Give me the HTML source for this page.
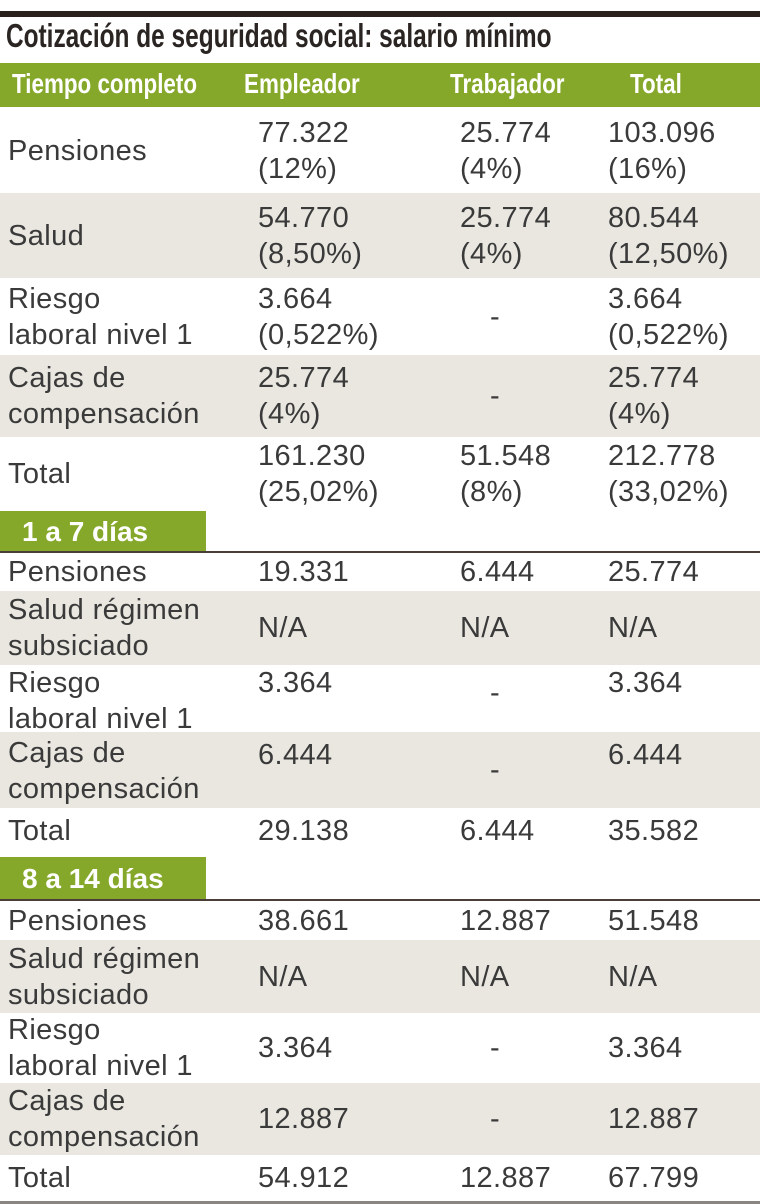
<!DOCTYPE html>
<html><head><meta charset="utf-8"><style>
*{margin:0;padding:0;box-sizing:border-box}
body{width:760px;height:1204px;background:#fff;position:relative;overflow:hidden;font-family:"Liberation Sans",sans-serif;color:#3a3a3a}
.a{position:absolute}
.row{position:absolute;left:0;width:760px;display:flex;align-items:center}
.row div{position:absolute;font-size:29px;line-height:36px;white-space:nowrap;letter-spacing:0.4px}
.g{background:#e9e7e0}
.c0{left:8px}.c1{left:258px}.c2{left:460px}.c3{left:608px}
.hd{font-family:"Liberation Sans Narrow","Liberation Sans",sans-serif;font-weight:bold;color:#fff;font-size:28px;position:absolute;top:68px;transform:scaleX(.8);transform-origin:left;white-space:nowrap}
.sec{position:absolute;left:0;width:206px;background:#86a82a;color:#fff;font-weight:bold;font-size:28px;padding-left:22px}
</style></head><body>
<div class="a" style="left:0;top:11px;width:760px;height:6px;background:#2a211d"></div>
<div class="a" style="left:6px;top:17px;font-family:'Liberation Sans Narrow','Liberation Sans',sans-serif;font-weight:bold;font-size:33px;color:#2a2522;transform:scaleX(.74);transform-origin:left;white-space:nowrap">Cotización de seguridad social: salario mínimo</div>
<div class="a" style="left:0;top:63px;width:760px;height:44px;background:#86a82a"></div>
<div class="hd" style="left:12px">Tiempo completo</div>
<div class="hd" style="left:244px">Empleador</div>
<div class="hd" style="left:450px">Trabajador</div>
<div class="hd" style="left:630px">Total</div>

<div class="row" style="top:108px;height:85px"><div class="c0">Pensiones</div><div class="c1">77.322<br>(12%)</div><div class="c2">25.774<br>(4%)</div><div class="c3">103.096<br>(16%)</div></div>
<div class="row g" style="top:193px;height:85px"><div class="c0">Salud</div><div class="c1">54.770<br>(8,50%)</div><div class="c2">25.774<br>(4%)</div><div class="c3">80.544<br>(12,50%)</div></div>
<div class="row" style="top:278px;height:77px"><div class="c0">Riesgo<br>laboral nivel 1</div><div class="c1">3.664<br>(0,522%)</div><div class="c2" style="left:490px">-</div><div class="c3">3.664<br>(0,522%)</div></div>
<div class="row g" style="top:355px;height:82px"><div class="c0">Cajas de<br>compensación</div><div class="c1">25.774<br>(4%)</div><div class="c2" style="left:490px">-</div><div class="c3">25.774<br>(4%)</div></div>
<div class="row" style="top:437px;height:73px"><div class="c0">Total</div><div class="c1">161.230<br>(25,02%)</div><div class="c2">51.548<br>(8%)</div><div class="c3">212.778<br>(33,02%)</div></div>

<div class="sec" style="top:511px;height:41px;line-height:41px">1 a 7 días</div>
<div class="a" style="left:0;top:551px;width:760px;height:2px;background:#4a3f38"></div>
<div class="row" style="top:553px;height:38px"><div class="c0">Pensiones</div><div class="c1">19.331</div><div class="c2">6.444</div><div class="c3">25.774</div></div>
<div class="row g" style="top:591px;height:74px"><div class="c0">Salud régimen<br>subsiciado</div><div class="c1">N/A</div><div class="c2">N/A</div><div class="c3">N/A</div></div>
<div class="row" style="top:665px;height:67px;align-items:flex-start"><div class="c0" style="top:0">Riesgo<br>laboral nivel 1</div><div class="c1" style="top:0">3.364</div><div class="c2" style="left:490px;top:10px">-</div><div class="c3" style="top:0">3.364</div></div>
<div class="row g" style="top:732px;height:76px;align-items:flex-start"><div class="c0" style="top:3px">Cajas de<br>compensación</div><div class="c1" style="top:5px">6.444</div><div class="c2" style="left:490px;top:20px">-</div><div class="c3" style="top:5px">6.444</div></div>
<div class="row" style="top:808px;height:46px"><div class="c0">Total</div><div class="c1">29.138</div><div class="c2">6.444</div><div class="c3">35.582</div></div>

<div class="sec" style="top:857px;height:43px;line-height:43px">8 a 14 días</div>
<div class="a" style="left:0;top:899px;width:760px;height:2px;background:#4a3f38"></div>
<div class="row" style="top:901px;height:39px"><div class="c0">Pensiones</div><div class="c1">38.661</div><div class="c2">12.887</div><div class="c3">51.548</div></div>
<div class="row g" style="top:940px;height:73px"><div class="c0">Salud régimen<br>subsiciado</div><div class="c1">N/A</div><div class="c2">N/A</div><div class="c3">N/A</div></div>
<div class="row" style="top:1013px;height:70px"><div class="c0">Riesgo<br>laboral nivel 1</div><div class="c1">3.364</div><div class="c2" style="left:490px">-</div><div class="c3">3.364</div></div>
<div class="row g" style="top:1083px;height:72px"><div class="c0">Cajas de<br>compensación</div><div class="c1">12.887</div><div class="c2" style="left:490px">-</div><div class="c3">12.887</div></div>
<div class="row" style="top:1155px;height:45px"><div class="c0">Total</div><div class="c1">54.912</div><div class="c2">12.887</div><div class="c3">67.799</div></div>
<div class="a" style="left:0;top:1201px;width:760px;height:3px;background:#8a8580"></div>
</body></html>
